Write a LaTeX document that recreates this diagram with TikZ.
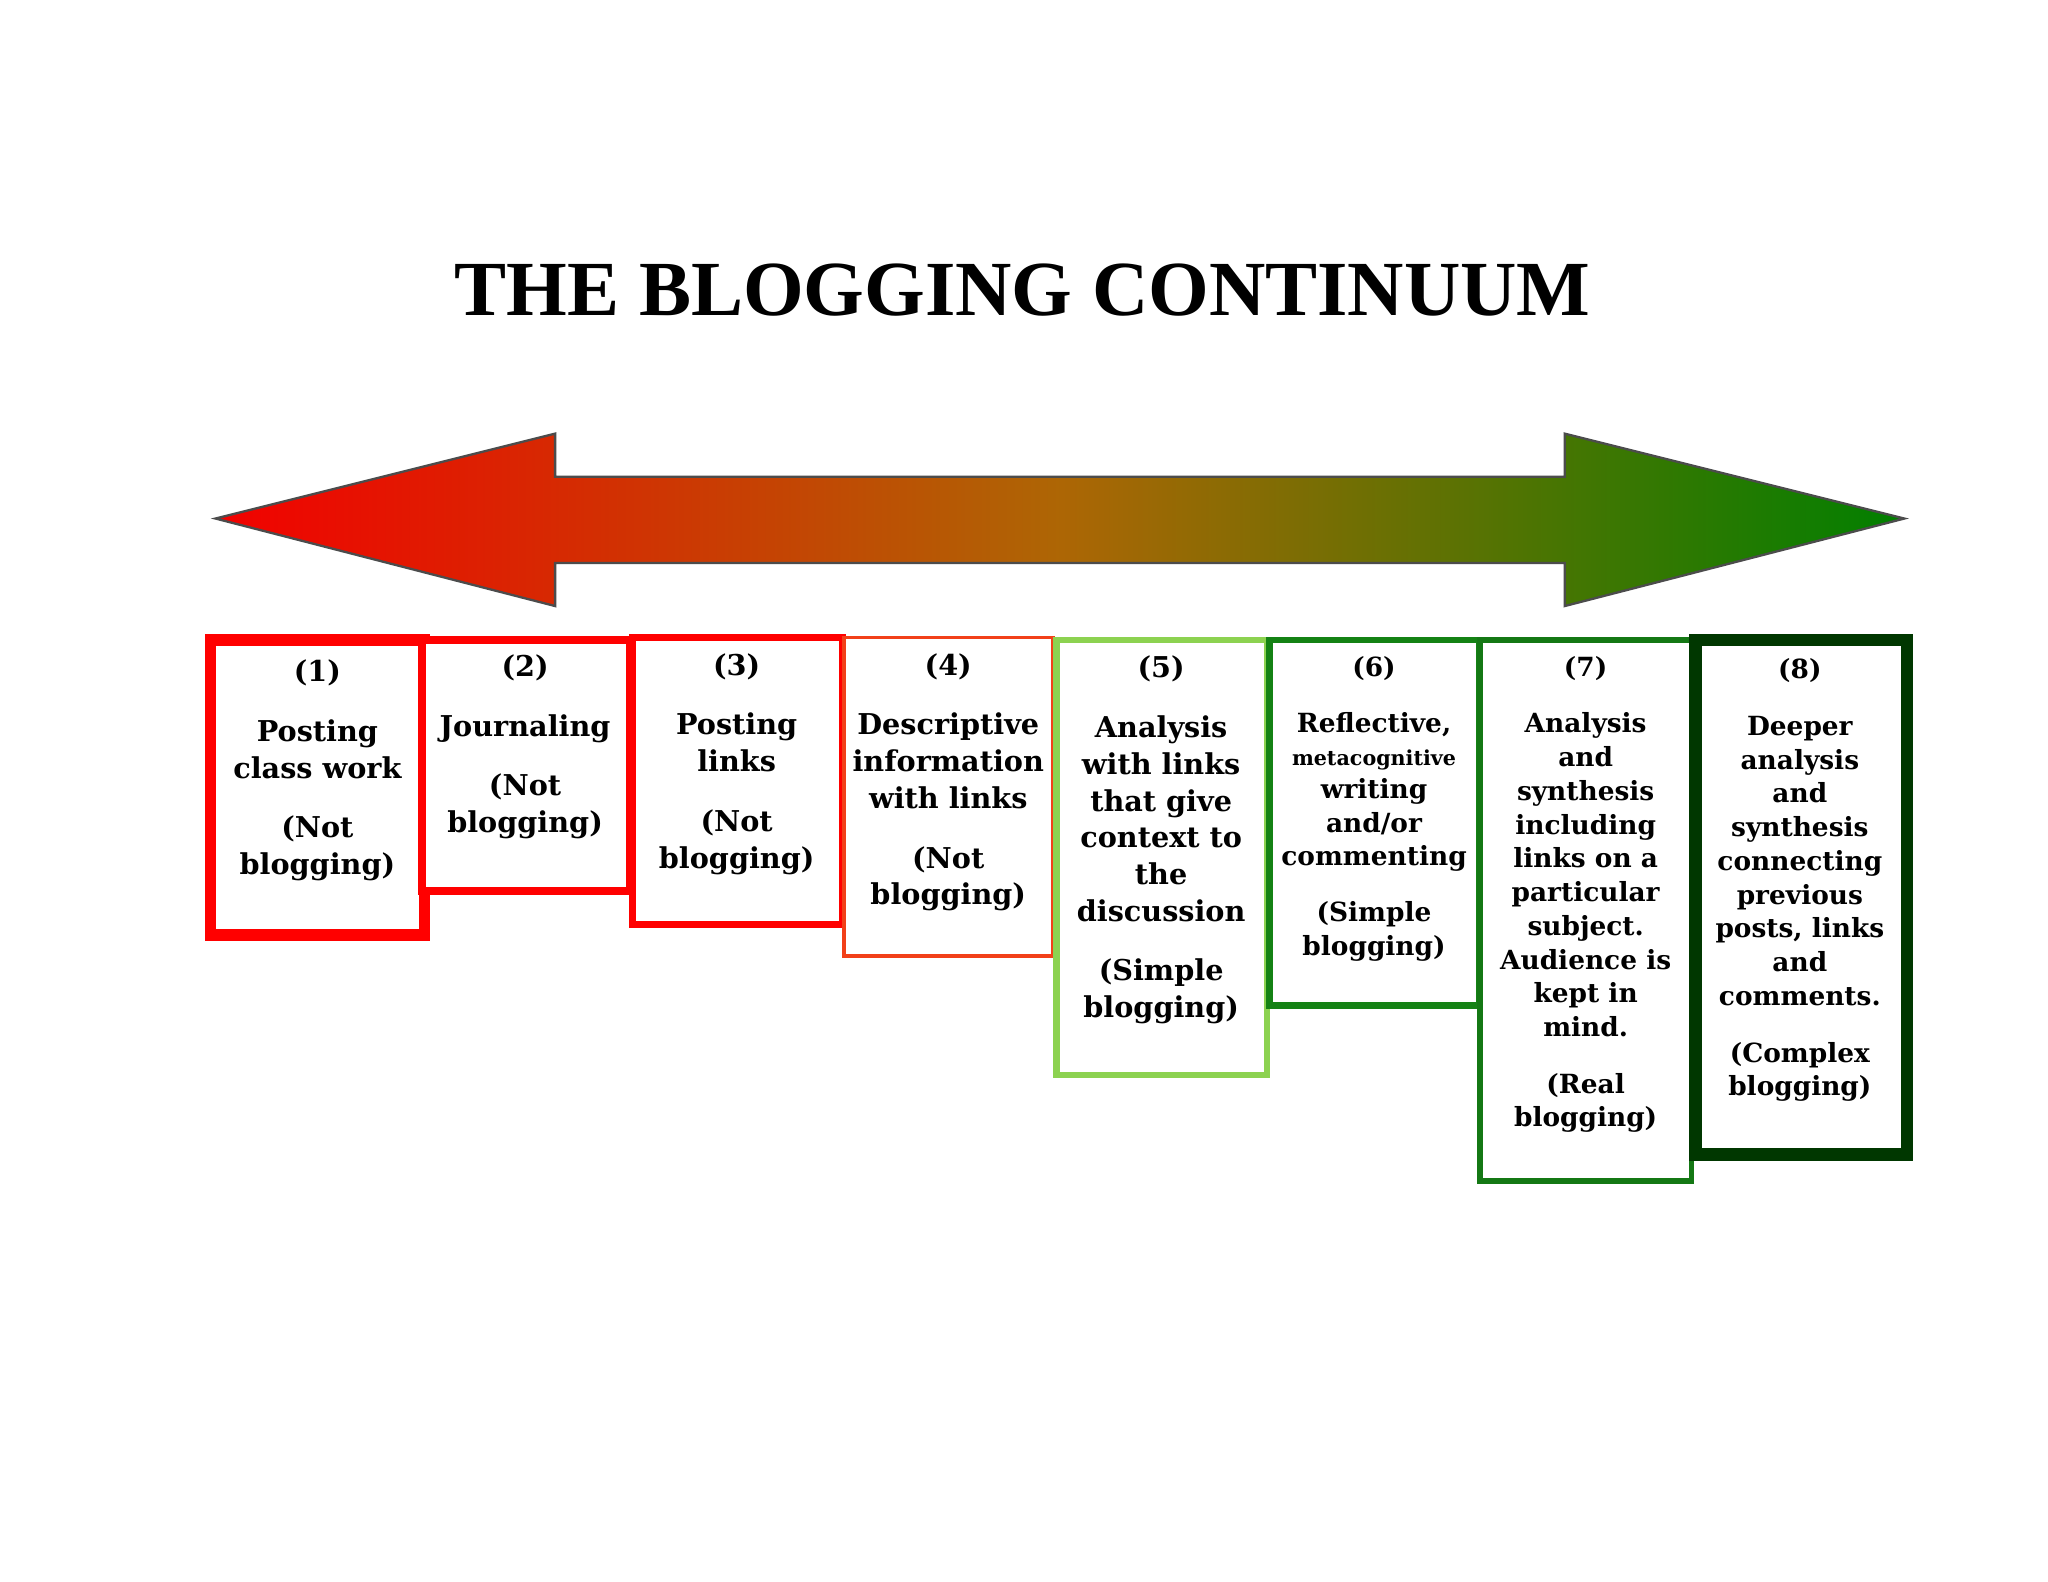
\documentclass[tikz,border=0pt]{standalone}
\usepackage{fontspec}
\setmainfont{DejaVu Serif}
\newfontfamily\titlefont{Liberation Serif}
\begin{document}
\begin{tikzpicture}[x=0.02cm,y=-0.02cm,
  bx/.style={draw,fill=white},
  tx/.style={anchor=north,align=center,font=\bfseries\fontsize{12.5}{16}\selectfont,inner sep=0pt}]
\useasboundingbox (0,0) rectangle (1568,1211);
\fill[white] (0,0) rectangle (1568,1211);
\node[font=\titlefont\bfseries\fontsize{34}{40}\selectfont] (title) at (783,222) {THE BLOGGING CONTINUUM};
\shade[left color=red!95!black, right color=green!50!black, middle color={rgb,1:red,0.68;green,0.40;blue,0.02}, draw=black!70, line width=1pt]
 (165,397) -- (425,332) -- (425,365) -- (1198,365) -- (1198,332) -- (1458,397) -- (1198,464) -- (1198,431) -- (425,431) -- (425,464) -- cycle;
\definecolor{lg}{RGB}{140,210,80}
\definecolor{g6}{RGB}{20,130,20}
\definecolor{g7}{RGB}{20,120,20}
\definecolor{g8}{RGB}{0,55,0}
\draw[bx,draw=red,line width=5pt] (161,490) rectangle (325,716);
\draw[bx,draw=red,line width=3.5pt] (323,490) rectangle (482,682);
\draw[bx,draw=red,line width=3pt] (484,488) rectangle (645,708);
\draw[bx,draw={rgb,1:red,0.95;green,0.25;blue,0.1},line width=1.6pt] (646,488) rectangle (806,732);
\draw[bx,draw=lg,line width=3pt] (809,490) rectangle (970,823);
\draw[bx,draw=g6,line width=3pt] (972,490) rectangle (1133,770);
\draw[bx,draw=g7,line width=2.5pt] (1133,490) rectangle (1295,904);
\draw[bx,draw=g8,line width=5.5pt] (1298,490) rectangle (1460,884);
\node[tx] (t1) at (243,505) {(1)\\[10pt]Posting\\class work\\[10pt](Not\\blogging)};
\node[tx] (t2) at (402,501) {(2)\\[10pt]Journaling\\[10pt](Not\\blogging)};
\node[tx] (t3) at (564,500) {(3)\\[10pt]Posting\\links\\[10pt](Not\\blogging)};
\node[tx] (t4) at (726,500) {(4)\\[10pt]Descriptive\\information\\with links\\[10pt](Not\\blogging)};
\node[tx] (t5) at (889,502) {(5)\\[10pt]Analysis\\with links\\that give\\context to\\the\\discussion\\[10pt](Simple\\blogging)};
\node[tx,font=\bfseries\fontsize{11.5}{14.5}\selectfont] (t6) at (1052,502) {(6)\\[10pt]Reflective,\\{\fontsize{9}{10}\selectfont metacognitive}\\writing\\and/or\\commenting\\[10pt](Simple\\blogging)};
\node[tx,font=\bfseries\fontsize{11.5}{14.7}\selectfont] (t7) at (1214,502) {(7)\\[10pt]Analysis\\and\\synthesis\\including\\links on a\\particular\\subject.\\Audience is\\kept in\\mind.\\[10pt](Real\\blogging)};
\node[tx,font=\bfseries\fontsize{11.5}{14.7}\selectfont] (t8) at (1378,504) {(8)\\[10pt]Deeper\\analysis\\and\\synthesis\\connecting\\previous\\posts, links\\and\\comments.\\[10pt](Complex\\blogging)};
\end{tikzpicture}
\end{document}
